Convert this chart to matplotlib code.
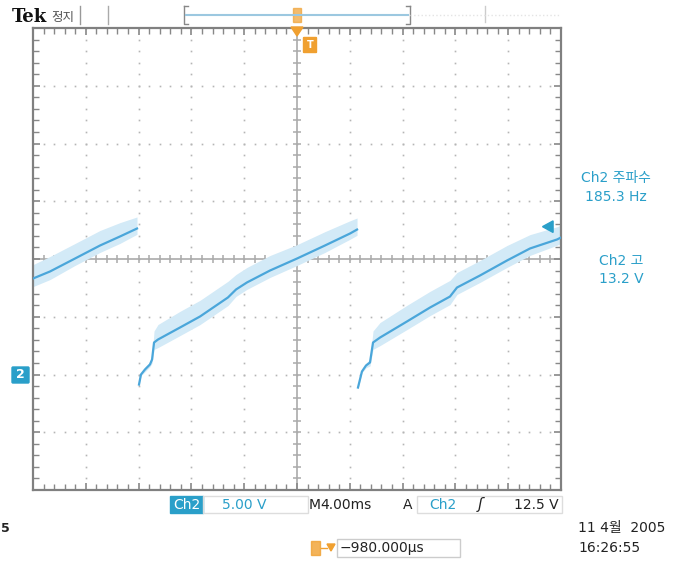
import numpy as np
import matplotlib
matplotlib.use('Agg')
import matplotlib.pyplot as plt
from matplotlib.patches import Rectangle, FancyBboxPatch, Polygon
from matplotlib.ticker import MultipleLocator

plt.rcParams['font.family'] = ['DejaVu Sans', 'Noto Sans CJK KR']

# scope settings
volts_div = 5.0
ms_div = 4.0

# trace: time (ms), volts (ground = 2nd marker)
seg1_t = [-20.0, -18.71, -16.82, -14.92, -13.41, -12.12]
seg1_v = [8.31, 8.92, 10.04, 11.17, 11.95, 12.64]
seg1_hi = [1.2, 1.3, 1.3, 1.3, 1.2, 1.0]
seg1_lo = [0.7, 0.7, 0.6, 0.6, 0.6, 0.5]

seg2_t = [-11.97, -11.82, -11.52, -11.14, -10.98, -10.83, -10.53, -8.86, -7.35,
          -5.23, -4.62, -3.79, -2.05, 0.0, 2.12, 4.02, 4.55]
seg2_v = [-0.87, 0.0, 0.43, 0.87, 1.30, 2.77, 3.03, 4.07, 5.02,
          6.67, 7.36, 7.97, 9.00, 10.04, 11.17, 12.21, 12.55]
seg2_hi = [0.1, 0.1, 0.2, 0.2, 0.3, 1.0, 1.3, 1.4, 1.4,
           1.4, 1.3, 1.3, 1.3, 1.2, 1.2, 1.1, 1.0]
seg2_lo = [0.1, 0.1, 0.2, 0.2, 0.3, 0.6, 0.7, 0.7, 0.7,
           0.7, 0.6, 0.6, 0.6, 0.6, 0.6, 0.5, 0.5]

seg3_t = [4.62, 4.92, 5.23, 5.53, 5.76, 6.29, 8.33, 10.08, 11.59,
          12.12, 13.86, 15.91, 17.65, 19.70, 20.0]
seg3_v = [-1.13, 0.26, 0.78, 1.04, 2.77, 3.20, 4.59, 5.80, 6.75,
          7.53, 8.57, 9.87, 10.91, 11.69, 11.86]
seg3_hi = [0.1, 0.1, 0.2, 0.3, 1.0, 1.3, 1.4, 1.4, 1.4,
           1.3, 1.3, 1.3, 1.2, 1.1, 1.1]
seg3_lo = [0.1, 0.1, 0.2, 0.3, 0.6, 0.7, 0.7, 0.7, 0.7,
           0.6, 0.6, 0.6, 0.6, 0.5, 0.5]

trace_col = '#4aa6da'
band_col = '#d3eaf7'
teal = '#2a9fc9'
orange = '#f0a030'
grid_col = '#b5b5b5'

W, H = 700, 562
fig = plt.figure(figsize=(7.0, 5.62), dpi=100)

ax = fig.add_axes([33 / W, 1 - 490 / H, 528 / W, 462 / H])
ax.set_xlim(-5 * ms_div, 5 * ms_div)
ax.set_ylim(-2 * volts_div, 6 * volts_div)

# graticule
xs_major = np.arange(-4, 5) * ms_div
ys_major = np.arange(-1, 6) * volts_div
xs_minor = np.arange(-25, 26) * ms_div / 5
ys_minor = np.arange(-10, 31) * volts_div / 5
for x in xs_major:
    if x != 0:
        ax.plot(np.full(len(ys_minor), x), ys_minor, ls='none', marker='s',
                ms=1.2, mew=0, color=grid_col, zorder=1)
for y in ys_major:
    if y != 2 * volts_div:
        ax.plot(xs_minor, np.full(len(xs_minor), y), ls='none', marker='s',
                ms=1.2, mew=0, color=grid_col, zorder=1)
ax.axhline(2 * volts_div, color='#aaaaaa', lw=1.2, zorder=1)
ax.axvline(0, color='#aaaaaa', lw=1.2, zorder=1)
ax.plot(xs_minor, np.full(len(xs_minor), 2 * volts_div), ls='none', marker='|',
        ms=6, mew=1.1, color='#aaaaaa', zorder=1)
ax.plot(np.zeros(len(ys_minor)), ys_minor, ls='none', marker='_',
        ms=6, mew=1.1, color='#aaaaaa', zorder=1)

# trace with noise band
for t, v, hi, lo in [(seg1_t, seg1_v, seg1_hi, seg1_lo),
                     (seg2_t, seg2_v, seg2_hi, seg2_lo),
                     (seg3_t, seg3_v, seg3_hi, seg3_lo)]:
    t = np.array(t)
    v = np.array(v)
    ax.fill_between(t, v - np.array(lo), v + np.array(hi), color=band_col,
                    lw=0, zorder=2)
    ax.plot(t, v, color=trace_col, lw=1.6, zorder=3)

ax.xaxis.set_major_locator(MultipleLocator(ms_div))
ax.xaxis.set_minor_locator(MultipleLocator(ms_div / 5))
ax.yaxis.set_major_locator(MultipleLocator(volts_div))
ax.yaxis.set_minor_locator(MultipleLocator(volts_div / 5))
ax.tick_params(which='both', direction='in', top=True, right=True,
               labelbottom=False, labelleft=False, color='#888888')
ax.tick_params(which='major', length=5, width=1.2)
ax.tick_params(which='minor', length=4, width=1)
for s in ax.spines.values():
    s.set_color('#808080')
    s.set_linewidth(1.6)

# trigger level arrow on the right
ax.add_patch(Polygon([[19.4, 12.3], [18.6, 12.8], [19.4, 13.3]],
                     closed=True, color=teal, zorder=5, clip_on=False))

# overlay pieces in pixel space
ov = fig.add_axes([0, 0, 1, 1], facecolor='none')
ov.set_xlim(0, W)
ov.set_ylim(H, 0)
ov.axis('off')

ov.text(12, 17, 'Tek', fontsize=13, fontweight='bold', family='DejaVu Serif',
        va='center', ha='left', color='#111111')
ov.text(51, 17, '정지', fontsize=9, va='center', ha='left', color='#555555')
ov.plot([80, 80], [6, 24], color='#999999', lw=1)
ov.plot([108, 108], [6, 24], color='#aaaaaa', lw=1)
ov.plot([485, 485], [6, 22], color='#cccccc', lw=1)
ov.plot([184, 184, 188], [6, 24, 24], color='#888888', lw=1)
ov.plot([184, 188], [6, 6], color='#888888', lw=1)
ov.plot([410, 410, 406], [6, 24, 24], color='#888888', lw=1)
ov.plot([410, 406], [6, 6], color='#888888', lw=1)
ov.plot([186, 408], [15, 15], color='#9cc8e0', lw=1.5)
ov.plot([410, 560], [15, 15], color='#e4e4e4', lw=1, ls=':')
ov.add_patch(Rectangle((293, 8), 8, 14, color=orange, alpha=0.7))
ov.add_patch(Polygon([[291, 27], [303, 27], [297, 36]], closed=True, color=orange))
ov.add_patch(FancyBboxPatch((304, 38), 12, 14, boxstyle='round,pad=0.5',
                            color=orange))
ov.text(310, 45, 'T', fontsize=7, color='white', ha='center', va='center',
        fontweight='bold')

# ground marker
ov.add_patch(FancyBboxPatch((13, 368), 15, 14, boxstyle='round,pad=1',
                            color=teal))
ov.text(20.5, 375, '2', fontsize=9, color='white', ha='center', va='center',
        fontweight='bold')

# measurements
ov.text(616, 178, 'Ch2 주파수', fontsize=10, color=teal, ha='center', va='center')
ov.text(616, 197, '185.3 Hz', fontsize=10, color=teal, ha='center', va='center')
ov.text(621, 261, 'Ch2 고', fontsize=10, color=teal, ha='center', va='center')
ov.text(621, 279, '13.2 V', fontsize=10, color=teal, ha='center', va='center')

# bottom readout
ov.add_patch(Rectangle((170, 496), 33, 17, color=teal))
ov.text(186.5, 505, 'Ch2', fontsize=10, color='white', ha='center', va='center')
ov.add_patch(Rectangle((203, 496), 105, 17, fill=False, ec='#dddddd', lw=1))
ov.text(222, 505, '5.00 V', fontsize=10, color=teal, ha='left', va='center')
ov.text(309, 505, 'M', fontsize=10, color='#222222', ha='left', va='center')
ov.text(320, 505, '4.00ms', fontsize=10, color='#222222', ha='left', va='center')
ov.text(403, 505, 'A', fontsize=10, color='#222222', ha='left', va='center')
ov.add_patch(Rectangle((417, 496), 145, 17, fill=False, ec='#dddddd', lw=1))
ov.text(429, 505, 'Ch2', fontsize=10, color=teal, ha='left', va='center')
ov.text(478, 505, 'ʃ', fontsize=11, color='#222222', ha='left', va='center',
        fontstyle='italic')
ov.text(514, 505, '12.5 V', fontsize=10, color='#222222', ha='left', va='center')

ov.text(1, 529, '5', fontsize=9, color='#222222', ha='left', va='center',
        fontweight='bold')
ov.text(578, 528, '11 4월  2005', fontsize=10, color='#222222', ha='left',
        va='center')
ov.text(578, 548, '16:26:55', fontsize=10, color='#222222', ha='left',
        va='center')

ov.add_patch(Rectangle((311, 541), 9, 14, color=orange, alpha=0.8))
ov.plot([321, 327], [548, 548], color=orange, lw=1)
ov.add_patch(Polygon([[327, 544], [335, 544], [331, 551]], closed=True,
                     color=orange))
ov.add_patch(Rectangle((337, 539), 123, 18, fill=False, ec='#cccccc', lw=1))
ov.text(340, 548, '−980.000µs', fontsize=10, color='#222222', ha='left',
        va='center')

fig.savefig('out.png', dpi=100)
